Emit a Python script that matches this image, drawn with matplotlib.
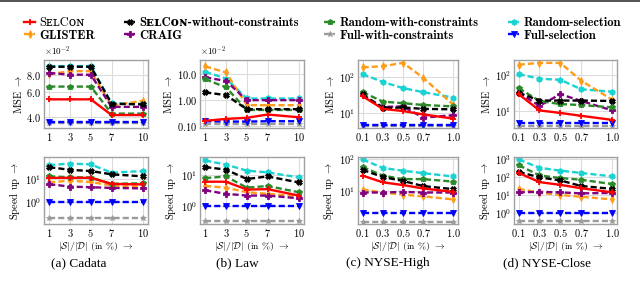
import matplotlib
matplotlib.use('Agg')
import matplotlib.pyplot as plt
from matplotlib.patches import Rectangle
from matplotlib.ticker import NullLocator

plt.rcParams['mathtext.fontset'] = 'cm'
plt.rcParams['axes.unicode_minus'] = False

# ---------------- data ----------------
x_pct = [1, 3, 5, 7, 10]
x_frac = [0.1, 0.3, 0.5, 0.7, 1.0]
x_pct_labels = ['1', '3', '5', '7', '10']
x_frac_labels = ['0.1', '0.3', '0.5', '0.7', '1.0']

series_keys = ['full_with', 'full_sel', 'random_sel', 'glister', 'craig',
               'random_with', 'selcon_wo', 'selcon']

# Cadata MSE (x10^-2)
cad_mse_selcon = [5.33, 5.33, 5.33, 4.1, 4.1]
cad_mse_selcon_wo = [9.2, 9.2, 9.2, 4.95, 4.9]
cad_mse_random_with = [6.6, 6.6, 6.6, 4.2, 4.2]
cad_mse_random_sel = [9.3, 9.3, 9.3, 5.0, 4.95]
cad_mse_glister = [8.1, 8.55, 8.55, 4.8, 5.2]
cad_mse_craig = [8.3, 8.05, 8.05, 4.7, 4.7]
cad_mse_full_with = [3.58, 3.58, 3.58, 3.58, 3.58]
cad_mse_full_sel = [3.62, 3.62, 3.62, 3.62, 3.62]

# Cadata speed up
cad_sp_selcon = [11.6, 11.6, 11.6, 6.3, 6.0]
cad_sp_selcon_wo = [34, 26, 23, 16.5, 13.5]
cad_sp_random_with = [13.5, 12.4, 12, 6.3, 6.7]
cad_sp_random_sel = [42, 49, 45, 19.5, 23]
cad_sp_glister = [7.3, 8.8, 7.6, 5.4, 4.8]
cad_sp_craig = [6.1, 4.8, 4.5, 4.2, 4.0]
cad_sp_full_with = [0.2, 0.2, 0.2, 0.2, 0.2]
cad_sp_full_sel = [1.0, 1.0, 1.0, 1.0, 1.0]

# Law MSE (x10^-2)
law_mse_selcon = [0.16, 0.19, 0.21, 0.28, 0.22]
law_mse_selcon_wo = [2.0, 1.56, 0.45, 0.45, 0.45]
law_mse_random_with = [6.4, 3.1, 0.42, 0.42, 0.42]
law_mse_random_sel = [12.3, 6.8, 1.16, 1.16, 1.16]
law_mse_glister = [20, 11.6, 0.64, 0.64, 0.64]
law_mse_craig = [7.5, 5.5, 1.0, 1.0, 1.0]
law_mse_full_with = [0.12, 0.12, 0.12, 0.12, 0.12]
law_mse_full_sel = [0.155, 0.15, 0.15, 0.155, 0.155]

# Law speed up
law_sp_selcon = [6.0, 6.0, 3.4, 3.5, 2.2]
law_sp_selcon_wo = [17.4, 14.4, 7.3, 8.8, 5.7]
law_sp_random_with = [7.8, 8.8, 3.9, 4.4, 2.8]
law_sp_random_sel = [28, 20.7, 13.4, 11.8, 8.2]
law_sp_glister = [4.4, 3.9, 2.8, 2.5, 2.1]
law_sp_craig = [3.2, 2.5, 2.2, 2.2, 1.8]
law_sp_full_with = [0.34, 0.34, 0.34, 0.34, 0.34]
law_sp_full_sel = [1.0, 1.0, 1.0, 1.0, 1.0]

# NYSE-High MSE
nh_mse_selcon = [29.5, 13.3, 11.6, 9.4, 7.2]
nh_mse_selcon_wo = [33, 14, 14.5, 13.3, 12.9]
nh_mse_random_with = [38, 21, 19, 17, 15.5]
nh_mse_random_sel = [118, 72, 49, 38, 27]
nh_mse_glister = [181, 193, 240, 94, 17]
nh_mse_craig = [31, 15, 15.5, 7.7, 8.9]
nh_mse_full_with = [4.6, 4.6, 4.6, 4.6, 4.6]
nh_mse_full_sel = [4.85, 4.85, 4.85, 4.85, 4.85]

# NYSE-High speed up
nh_sp_selcon = [31, 19, 15.6, 12.2, 9.5]
nh_sp_selcon_wo = [47, 28, 21, 14.5, 11.6]
nh_sp_random_with = [58, 31, 24, 24, 20]
nh_sp_random_sel = [100, 54, 44, 37, 29]
nh_sp_glister = [11.3, 9.1, 7.8, 6.9, 5.5]
nh_sp_craig = [9.1, 9.1, 9.5, 9.1, 9.1]
nh_sp_full_with = [1.06, 1.06, 1.06, 1.06, 1.06]
nh_sp_full_sel = [2.05, 2.05, 2.05, 2.05, 2.05]

# NYSE-Close MSE
nc_mse_selcon = [30, 10.7, 9.1, 7.6, 5.85]
nc_mse_selcon_wo = [33, 20, 20, 20, 19.5]
nc_mse_random_with = [44, 19.5, 16, 15, 13]
nc_mse_random_sel = [107, 80, 75, 41, 35]
nc_mse_glister = [195, 219, 219, 71, 21]
nc_mse_craig = [33, 14.3, 30, 19.5, 10.7]
nc_mse_full_with = [4.1, 4.1, 4.1, 4.1, 4.1]
nc_mse_full_sel = [4.9, 4.9, 4.9, 4.9, 4.9]

# NYSE-Close speed up
nc_sp_selcon = [175, 53, 37, 24, 14]
nc_sp_selcon_wo = [200, 98, 66, 32, 22]
nc_sp_random_with = [475, 126, 90, 72, 41]
nc_sp_random_sel = [1000, 340, 235, 174, 111]
nc_sp_glister = [22, 13.4, 10, 7.9, 5.6]
nc_sp_craig = [14, 15, 14, 12.3, 13]
nc_sp_full_with = [0.32, 0.32, 0.32, 0.32, 0.32]
nc_sp_full_sel = [1.0, 1.0, 1.0, 1.0, 1.0]

captions = ['(a) Cadata', '(b) Law', '(c) NYSE-High', '(d) NYSE-Close']

# ---------------- styles ----------------
styles = {
    'selcon':      dict(color='#ff0000', ls='-',  marker='+', label='S\u1d07\u029fC\u1d0f\u0274'),
    'glister':     dict(color='#ff9c1a', ls='--', marker='d', label='GLISTER'),
    'selcon_wo':   dict(color='#000000', ls='--', marker='X', label='S\u1d07\u029fC\u1d0f\u0274-without-constraints'),
    'craig':       dict(color='#800080', ls='--', marker='P', label='CRAIG'),
    'random_with': dict(color='#2a8a2a', ls='--', marker='p', label='Random-with-constraints'),
    'full_with':   dict(color='#9a9a9a', ls='--', marker='*', label='Full-with-constraints'),
    'random_sel':  dict(color='#19d3d3', ls='--', marker='h', label='Random-selection'),
    'full_sel':    dict(color='#0000ff', ls='--', marker='v', label='Full-selection'),
}

def series(prefix):
    g = globals()
    return {k: g[prefix + '_' + k] for k in series_keys}

panels = [
    (0, 0, x_pct, x_pct_labels, series('cad_mse'), (3.3, 10.3), [4, 6, 8], ['4.0', '6.0', '8.0'], 'MSE', True),
    (0, 1, x_pct, x_pct_labels, series('law_mse'), (0.085, 35), [0.1, 1, 10], ['0.10', '1.00', '10.0'], 'MSE', True),
    (0, 2, x_frac, x_frac_labels, series('nh_mse'), (4.0, 286), [10, 100], ['10^{1}', '10^{2}'], 'MSE', False),
    (0, 3, x_frac, x_frac_labels, series('nc_mse'), (3.5, 263), [10, 100], ['10^{1}', '10^{2}'], 'MSE', False),
    (1, 0, x_pct, x_pct_labels, series('cad_sp'), (0.11, 95), [1, 10], ['10^{0}', '10^{1}'], 'Speed up', False),
    (1, 1, x_pct, x_pct_labels, series('law_sp'), (0.28, 36), [1, 10], ['10^{0}', '10^{1}'], 'Speed up', False),
    (1, 2, x_frac, x_frac_labels, series('nh_sp'), (0.93, 119), [10, 100], ['10^{1}', '10^{2}'], 'Speed up', False),
    (1, 3, x_frac, x_frac_labels, series('nc_sp'), (0.23, 1380), [1, 10, 100, 1000], ['10^{0}', '10^{1}', '10^{2}', '10^{3}'], 'Speed up', False),
]

W, H = 640, 281
fig = plt.figure(figsize=(W / 100, H / 100), dpi=100)

col_left = [44, 200, 358, 514]
col_w = [104, 104, 100, 103]
row_top = [60, 157]
row_h = [68, 67]

legend_handles = {}
for (r, c, xv, xl, data, ylim, yt, ytl, ylab, offset) in panels:
    ax = fig.add_axes([col_left[c] / W, 1 - (row_top[r] + row_h[r]) / H, col_w[c] / W, row_h[r] / H])
    for k in series_keys:
        st = styles[k]
        ln, = ax.plot(xv, data[k], color=st['color'], ls=st['ls'], marker=st['marker'],
                      lw=1.7, ms=5 if st['marker'] == '+' else 4.2,
                      mew=1.3 if st['marker'] == '+' else 0.6, label=st['label'])
        if st['ls'] == '--':
            ln.set_dashes((2.6, 1.3))
        legend_handles[k] = ln
    ax.set_yscale('log')
    ax.set_ylim(*ylim)
    ax.set_yticks(yt)
    ax.set_yticklabels([r'$\mathbf{' + t + '}$' for t in ytl])
    ax.yaxis.set_minor_locator(NullLocator())
    if xv is x_pct:
        ax.set_xlim(0.5, 10.5)
    else:
        ax.set_xlim(0.055, 1.045)
    ax.set_xticks(xv)
    ax.set_xticklabels([r'$\mathbf{' + t + '}$' for t in xl])
    ax.tick_params(axis='both', length=0, pad=2, labelsize=7.5)
    ax.grid(True, color='#dcdcdc', lw=0.8)
    ax.set_axisbelow(True)
    for sp in ax.spines.values():
        sp.set_color('#a0a0a0')
        sp.set_linewidth(1.0)
    ax.set_ylabel(ylab + r' $\rightarrow$', family='cmr10', fontsize=7.5, labelpad=2)
    if offset:
        ax.text(0.0, 1.03, r'$\mathbf{\times 10^{-2}}$', transform=ax.transAxes,
                fontsize=6.5, ha='left', va='bottom')
    if r == 1:
        ax.set_xlabel(r'$|\mathcal{S}|/|\mathcal{D}|$ (in %) $\rightarrow$', family='cmr10',
                      fontsize=7, labelpad=1)

cap_x = [79, 237, 388, 547]
for cx, cap in zip(cap_x, captions):
    fig.text(cx / W, 1 - 263 / H, cap, family='Liberation Serif', fontsize=9.5,
             ha='center', va='center')

# legend: one small legend per column, placed at the reference column positions
legend_cols = [['selcon', 'glister'], ['selcon_wo', 'craig'],
               ['random_with', 'full_with'], ['random_sel', 'full_sel']]
legend_x = [24, 124, 324, 508]
for lx, keys in zip(legend_x, legend_cols):
    leg = fig.legend([legend_handles[k] for k in keys], [styles[k]['label'] for k in keys],
                     loc='upper left', bbox_to_anchor=(lx / W, 1 - 17 / H),
                     frameon=False, fontsize=9, handlelength=0.9, handletextpad=0.35,
                     labelspacing=0.05, borderaxespad=0, borderpad=0)
    for t, k in zip(leg.get_texts(), keys):
        if k == 'selcon':
            t.set_fontfamily(['cmr10', 'DejaVu Serif'])
        else:
            t.set_fontfamily(['cmb10', 'DejaVu Serif'])
            t.set_fontweight('bold')

fig.add_artist(Rectangle((0, 1 - 2 / H), 1, 2 / H, transform=fig.transFigure,
                         color='#555555', lw=0))

fig.savefig('out.png', dpi=100)
